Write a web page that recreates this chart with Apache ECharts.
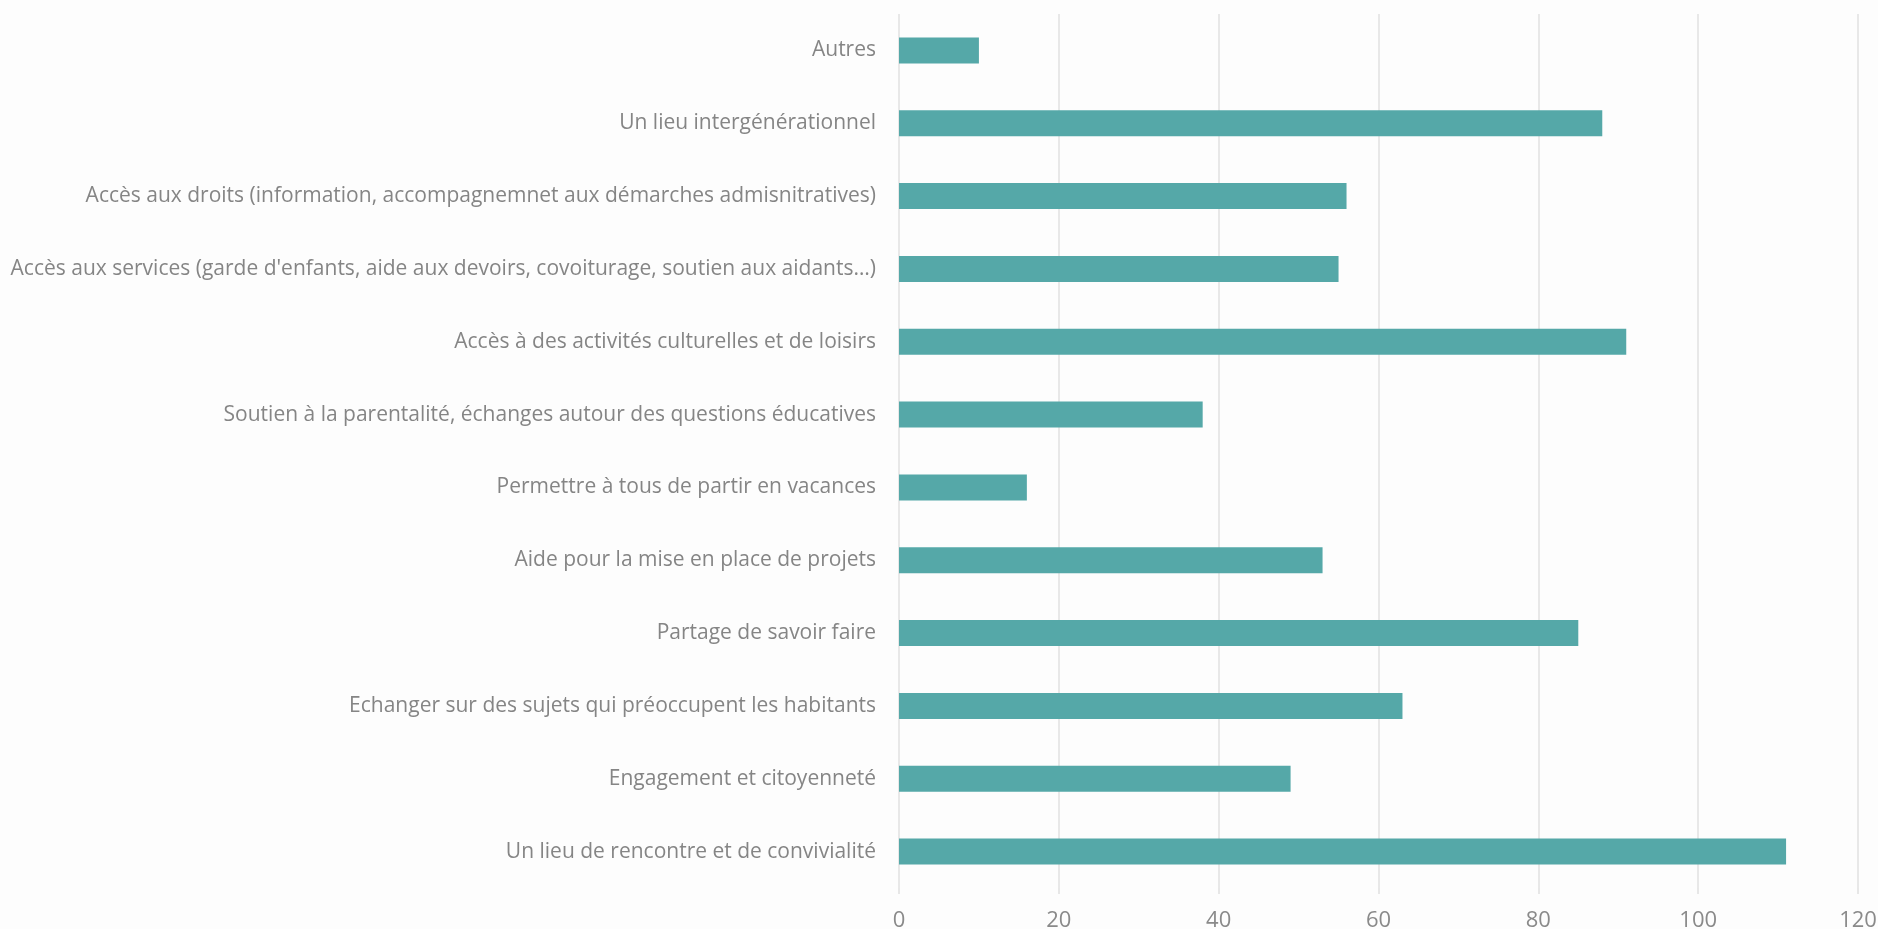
<!DOCTYPE html>
<html>
<head>
<meta charset="utf-8">
<script src="https://cdn.jsdelivr.net/npm/echarts@6/dist/echarts.min.js"></script>
<style>
html,body{margin:0;padding:0;background:#fdfdfd;}
#chart{width:1878px;height:929px;}
</style>
</head>
<body>
<div id="chart"></div>
<script>
const categories = [
  "Autres",
  "Un lieu intergénérationnel",
  "Accès aux droits (information, accompagnemnet aux démarches admisnitratives)",
  "Accès aux services (garde d'enfants, aide aux devoirs, covoiturage, soutien aux aidants…)",
  "Accès à des activités culturelles et de loisirs",
  "Soutien à la parentalité, échanges autour des questions éducatives",
  "Permettre à tous de partir en vacances",
  "Aide pour la mise en place de projets",
  "Partage de savoir faire",
  "Echanger sur des sujets qui préoccupent les habitants",
  "Engagement et citoyenneté",
  "Un lieu de rencontre et de convivialité"
];
const values = [10, 88, 56, 55, 91, 38, 16, 53, 85, 63, 49, 111];
const xTicks = [0, 20, 40, 60, 80, 100, 120];

const chart = echarts.init(document.getElementById('chart'), null, {renderer: 'canvas'});
chart.setOption({
  backgroundColor: '#fdfdfd',
  animation: false,
  grid: {left: 899, right: 20, top: 14, bottom: 41, containLabel: false, outerBoundsMode: 'none'},
  xAxis: {
    type: 'value',
    min: xTicks[0],
    max: xTicks[xTicks.length - 1],
    interval: xTicks[1] - xTicks[0],
    axisLine: {show: false},
    axisTick: {show: true, length: 6, lineStyle: {color: '#e0e0e0', width: 1.5}},
    splitLine: {show: true, lineStyle: {color: '#e0e0e0', width: 1.5}},
    axisLabel: {color: '#8a8a8a', fontFamily: 'Open Sans', fontSize: 22, margin: 22}
  },
  yAxis: {
    type: 'category',
    data: categories,
    inverse: true,
    axisLine: {show: false},
    axisTick: {show: false},
    axisLabel: {color: '#858585', fontFamily: 'Open Sans', fontSize: 21, margin: 23}
  },
  series: [{
    type: 'bar',
    data: values,
    barWidth: 26,
    itemStyle: {color: '#55a8a8'}
  }]
});
</script>
</body>
</html>
